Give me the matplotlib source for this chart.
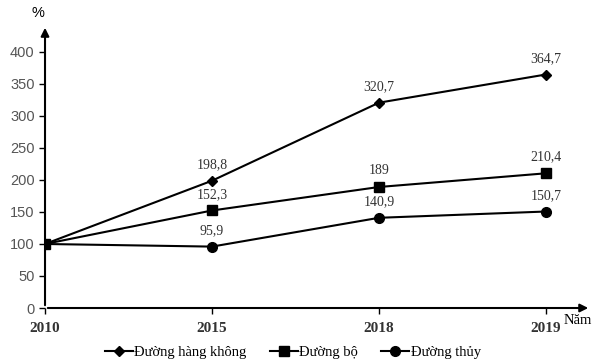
import matplotlib
matplotlib.use("Agg")
import matplotlib.pyplot as plt

# Data
years = ["2010", "2015", "2018", "2019"]
air = [100, 198.8, 320.7, 364.7]
road = [100, 152.3, 189, 210.4]
water = [100, 95.9, 140.9, 150.7]
series_names = ["Đường hàng không", "Đường bộ", "Đường thủy"]
yticks = [0, 50, 100, 150, 200, 250, 300, 350, 400]

SERIF = "Liberation Serif"
SANS = "Liberation Sans"

def fmt(v):
    return ("%g" % v).replace(".", ",")

fig = plt.figure(figsize=(6.05, 3.63), dpi=100)
ax = fig.add_axes([0.0744, 0.1515, 0.9025, 0.7796])

x = list(range(len(years)))
styles = [(air, "D", 5.5), (road, "s", 7), (water, "o", 7)]
for (vals, mk, ms), name in zip(styles, series_names):
    ax.plot(x, vals, color="black", lw=1.5, marker=mk, markersize=ms, label=name)
    for xi, v in zip(x[1:], vals[1:]):
        ax.annotate(fmt(v), (xi, v), xytext=(0, 7), textcoords="offset points",
                    ha="center", va="bottom", fontsize=10, family=SERIF, color="#333333")

ax.set_xlim(0, 3.27)
ax.set_ylim(0, 442)
ax.set_xticks(x)
ax.set_xticklabels(years, family=SERIF, fontweight="bold", fontsize=11, color="#333333")
ax.set_yticks(yticks)
ax.set_yticklabels([str(t) for t in yticks], family=SANS, fontsize=10.5, color="#555555")
ax.tick_params(axis="both", direction="out", length=4, width=1, color="black")
ax.tick_params(axis="x", pad=6)

for sp in ax.spines.values():
    sp.set_visible(False)
ax.annotate("", xy=(1.0, 0), xytext=(0, 0), xycoords="axes fraction",
            arrowprops=dict(arrowstyle="-|>", color="black", lw=1.5, mutation_scale=12))
ax.annotate("", xy=(0, 1.0), xytext=(0, 0), xycoords="axes fraction",
            arrowprops=dict(arrowstyle="-|>", color="black", lw=1.5, mutation_scale=12))

fig.text(38 / 605, 1 - 13 / 363, "%", family=SANS, fontsize=10.5, ha="center", va="center")
fig.text(578 / 605, 1 - 321 / 363, "Năm", family=SERIF, fontsize=10.5, ha="center", va="center")

ax.legend(loc="center", bbox_to_anchor=(293 / 605, 1 - 352 / 363), bbox_transform=fig.transFigure,
          ncol=3, frameon=False, prop={"family": SERIF, "size": 10.5},
          handlelength=1.9, handletextpad=0.1, columnspacing=1.6)

fig.savefig("out.png", dpi=100)
